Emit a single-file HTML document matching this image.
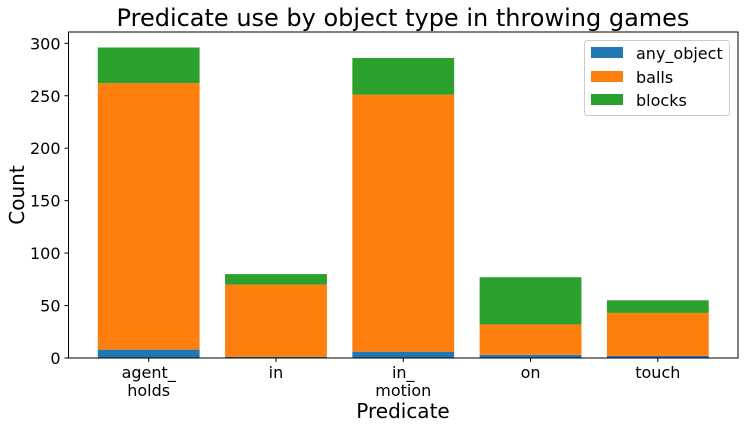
<!DOCTYPE html>
<html><head><meta charset="utf-8"><style>
body{margin:0;background:#fff;font-family:"Liberation Sans","DejaVu Sans",sans-serif;}
svg text{font-family:"DejaVu Sans","Liberation Sans",sans-serif;fill:#000;}
</style></head><body>
<svg id="chart" width="744" height="429" viewBox="0 0 744 429">
<text x="403" y="26" font-size="24" text-anchor="middle">Predicate use by object type in throwing games</text>
<g id="bars"></g>
<g id="axes"></g>
<text x="403" y="418" font-size="20" text-anchor="middle">Predicate</text>
<text transform="translate(24,195) rotate(-90)" font-size="20" text-anchor="middle">Count</text>
<g>
<rect x="584.5" y="40.5" width="145" height="75" rx="3" fill="#fff" stroke="#ccc"/>
<g><rect x="591" y="47" width="32" height="11" fill="#1f77b4"/><text x="636" y="59" font-size="16">any_object</text></g>
<g><rect x="591" y="71" width="32" height="11" fill="#ff7f0e"/><text x="636" y="83" font-size="16">balls</text></g>
<g><rect x="591" y="94" width="32" height="11" fill="#2ca02c"/><text x="636" y="106" font-size="16">blocks</text></g>
</g>
</svg>
<script>
const categories = ["agent_\nholds","in","in_\nmotion","on","touch"];
const anyObject = [8,1,6,3,2];
const balls = [254,69,245,29,41];
const blocks = [34,10,35,45,12];
const yTicks = [0,50,100,150,200,250,300];

const L=68.5,R=738,T=32,B=358;
const xMin=-0.63,xMax=4.63,yMax=(B-T)/1.049;
const xs=v=>L+(v-xMin)/(xMax-xMin)*(R-L);
const ys=v=>B-v*1.049;
const NS="http://www.w3.org/2000/svg";
const bars=document.getElementById('bars'),axes=document.getElementById('axes');
function mk(tag,attrs,parent){const e=document.createElementNS(NS,tag);for(const k in attrs)e.setAttribute(k,attrs[k]);parent.appendChild(e);return e;}
const series=[["any-object",anyObject,"#1f77b4"],["balls",balls,"#ff7f0e"],["blocks",blocks,"#2ca02c"]];
const bw=(xs(0.8)-xs(0));
categories.forEach((c,i)=>{
  let base=0;
  series.forEach(([n,arr,col])=>{
    const v=arr[i];
    const r=mk('rect',{x:xs(i)-bw/2,y:ys(base+v),width:bw,height:ys(base)-ys(base+v),fill:col},bars);
    
    
    base+=v;
  });
  const lines=c.split("\n");
  mk('line',{x1:xs(i),x2:xs(i),y1:B,y2:B+4,stroke:'#000'},axes);
  lines.forEach((ln,j)=>{
    const t=mk('text',{x:xs(i),y:B+20+j*18,'font-size':16,'text-anchor':'middle'},axes);
    t.textContent=ln;
    
    
  });
});
yTicks.forEach(v=>{
  mk('line',{x1:L-4,x2:L,y1:ys(v),y2:ys(v),stroke:'#000'},axes);
  const t=mk('text',{x:L-8,y:ys(v)+6,'font-size':16,'text-anchor':'end'},axes);
  t.textContent=v;
  
  
});
const f=mk('rect',{x:L,y:T,width:R-L,height:B-T,fill:'none',stroke:'#000','stroke-width':1},axes);


</script>
</body></html>
